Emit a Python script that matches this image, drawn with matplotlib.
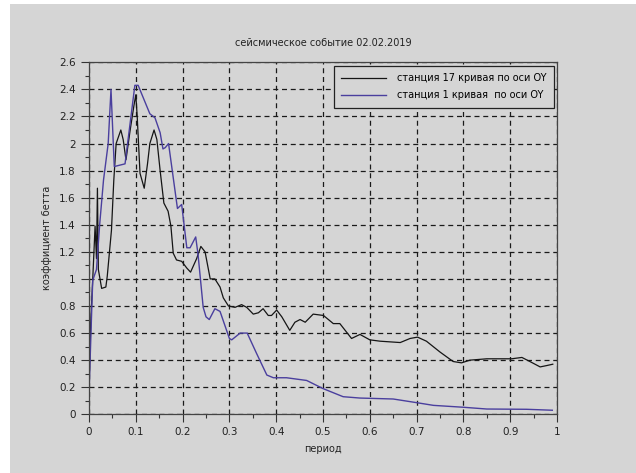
import numpy as np
import matplotlib.pyplot as plt
from matplotlib.patches import Rectangle
from matplotlib.ticker import MultipleLocator, FuncFormatter

# станция 17 (чёрная кривая)
per_17 = [0.0, 0.004, 0.008, 0.013, 0.016, 0.018, 0.020, 0.027, 0.036, 0.039,
          0.048, 0.053, 0.058, 0.068, 0.073, 0.079, 0.088, 0.096, 0.100, 0.103,
          0.109, 0.118, 0.125, 0.130, 0.139, 0.145, 0.152, 0.160, 0.169, 0.175,
          0.180, 0.187, 0.198, 0.209, 0.217, 0.230, 0.239, 0.248, 0.259, 0.269,
          0.280, 0.287, 0.298, 0.312, 0.326, 0.337, 0.351, 0.362, 0.372, 0.383,
          0.390, 0.401, 0.412, 0.429, 0.440, 0.451, 0.462, 0.479, 0.501, 0.522,
          0.536, 0.561, 0.579, 0.600, 0.622, 0.665, 0.686, 0.702, 0.721, 0.750,
          0.778, 0.796, 0.814, 0.850, 0.871, 0.903, 0.925, 0.942, 0.964, 0.978,
          0.991]
beta_17 = [0.2, 0.7, 1.0, 1.39, 1.15, 1.67, 1.07, 0.93, 0.94, 1.02,
           1.36, 1.73, 2.0, 2.10, 2.03, 1.88, 2.10, 2.28, 2.36, 2.20,
           1.78, 1.67, 1.85, 2.00, 2.10, 2.03, 1.80, 1.56, 1.50, 1.39,
           1.19, 1.14, 1.13, 1.08, 1.05, 1.15, 1.24, 1.20, 1.00, 1.00,
           0.94, 0.86, 0.80, 0.79, 0.81, 0.79, 0.74, 0.75, 0.78, 0.73,
           0.73, 0.77, 0.72, 0.62, 0.68, 0.70, 0.68, 0.74, 0.73, 0.67,
           0.67, 0.56, 0.59, 0.55, 0.54, 0.53, 0.56, 0.57, 0.54, 0.46,
           0.39, 0.38, 0.40, 0.41, 0.41, 0.41, 0.42, 0.39, 0.35, 0.36,
           0.37]

# станция 1 (синяя кривая)
per_1 = [0.0, 0.002, 0.006, 0.008, 0.016, 0.023, 0.031, 0.041, 0.047, 0.054,
         0.077, 0.098, 0.105, 0.130, 0.141, 0.152, 0.158, 0.163, 0.170, 0.189,
         0.198, 0.209, 0.216, 0.228, 0.233, 0.244, 0.250, 0.257, 0.269, 0.280,
         0.300, 0.305, 0.323, 0.338, 0.358, 0.380, 0.394, 0.422, 0.465, 0.500,
         0.543, 0.579, 0.600, 0.650, 0.700, 0.736, 0.800, 0.850, 0.935, 0.990]
beta_1 = [0.15, 0.36, 0.79, 0.99, 1.07, 1.41, 1.73, 2.0, 2.40, 1.83,
          1.85, 2.43, 2.43, 2.22, 2.19, 2.08, 1.96, 1.97, 2.0, 1.52,
          1.55, 1.23, 1.23, 1.31, 1.18, 0.79, 0.72, 0.70, 0.78, 0.76,
          0.56, 0.55, 0.60, 0.60, 0.45, 0.29, 0.27, 0.27, 0.25, 0.19,
          0.13, 0.12, 0.118, 0.113, 0.086, 0.066, 0.052, 0.039, 0.037, 0.03]

bg = '#d5d5d5'
fig = plt.figure(figsize=(6.36, 4.73), dpi=100, facecolor='white')
fig.patches.append(Rectangle((10 / 636, 0), 1, 1 - 4 / 473, transform=fig.transFigure,
                             facecolor=bg, edgecolor='none', zorder=-10))
ax = fig.add_axes([89 / 636, 1 - 414.3 / 473, 468 / 636, 352 / 473])
ax.set_facecolor(bg)

ax.plot(per_17, beta_17, color='#151515', lw=0.9, label='станция 17 кривая по оси OY')
ax.plot(per_1, beta_1, color='#4a3f9e', lw=1.0, label='станция 1 кривая  по оси OY')

ax.set_xticks(np.arange(0, 1.001, 0.1))
ax.set_yticks(np.arange(0, 2.601, 0.2))
ax.xaxis.set_minor_locator(MultipleLocator(0.05))
ax.yaxis.set_minor_locator(MultipleLocator(0.1))
fmt = FuncFormatter(lambda v, p: '%g' % round(v, 2))
ax.xaxis.set_major_formatter(fmt)
ax.yaxis.set_major_formatter(fmt)
ax.set_xlim(0, 1)
ax.set_ylim(0, 2.6)
ax.tick_params(which='major', direction='out', length=6, width=0.8, color='#333333',
               labelsize=7.5, labelcolor='#222222')
ax.tick_params(which='minor', direction='out', length=3, width=0.8, color='#333333')
ax.grid(True, which='major', color='#1a1a1a', linestyle=(0, (4, 3)), lw=0.9)
for s in ax.spines.values():
    s.set_color('#444444')
    s.set_linewidth(0.9)

ax.set_title('сейсмическое событие 02.02.2019', fontsize=7, pad=12, color='#222222')
ax.set_xlabel('период', fontsize=7, labelpad=5, color='#222222')
ax.set_ylabel('коэффициент бетта', fontsize=7, labelpad=5, color='#222222')

leg = ax.legend(loc='upper right', fontsize=7, frameon=True, fancybox=False,
                handlelength=4.6, handletextpad=1.1, borderaxespad=0.35, borderpad=0.75,
                labelspacing=0.75, framealpha=1)
leg.get_frame().set_facecolor(bg)
leg.get_frame().set_edgecolor('#222222')
leg.get_frame().set_linewidth(0.9)

plt.savefig('out.png', dpi=100, facecolor=fig.get_facecolor())
